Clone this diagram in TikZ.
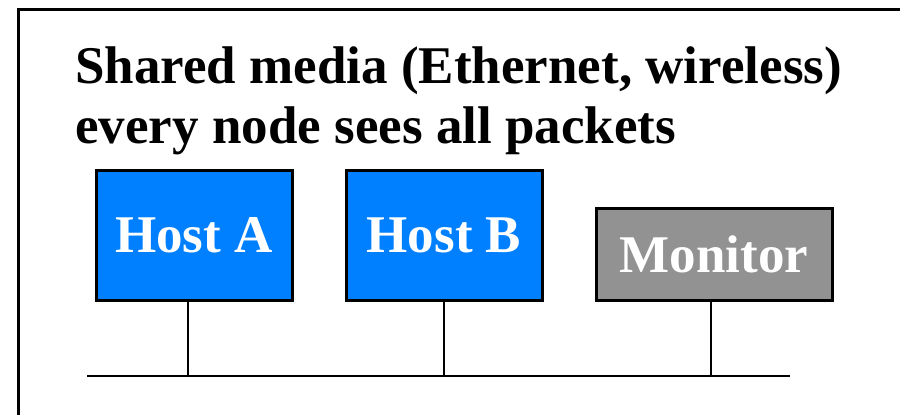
\documentclass[tikz,border=0pt]{standalone}
\usepackage{fontspec}
\setmainfont{Liberation Serif}
\usepackage{xcolor}
\usetikzlibrary{positioning}
\definecolor{hostblue}{HTML}{0080FF}
\definecolor{mongray}{HTML}{929292}

\begin{document}
\begin{tikzpicture}[x=0.5pt,y=-0.5pt,
  box/.style={draw,line width=1.5pt,inner sep=0pt,text=white,
    font=\fontsize{26.5}{30}\selectfont\bfseries},
  wire/.style={line width=1.4pt}]
\useasboundingbox(0,0)rectangle(900,414);
\draw[line width=1.5pt](18,430)--(18,9)--(910,9);
\node[anchor=base west,align=left,inner sep=0pt,font=\fontsize{26.5}{30}\selectfont\bfseries](title)
  at(75,143){Shared media (Ethernet, wireless)\\every node sees all packets};
\node[box,fill=hostblue,minimum width=98pt,minimum height=65pt](hostA)at(194,235){Host A};
\node[box,fill=hostblue,minimum width=98pt,minimum height=65pt](hostB)at(444,235){Host B};
\node[box,fill=mongray,minimum width=118pt,minimum height=46pt](monitor)at(714,254){Monitor};
\coordinate(busL)at(87,376);
\coordinate(busR)at(790,376);
\coordinate(tapA)at(188,376);
\coordinate(tapB)at(444,376);
\coordinate(tapM)at(711,376);
\draw[wire](busL)--(busR);
\draw[wire](hostA.south -| tapA)--(tapA);
\draw[wire](hostB.south -| tapB)--(tapB);
\draw[wire](monitor.south -| tapM)--(tapM);
\end{tikzpicture}
\end{document}
